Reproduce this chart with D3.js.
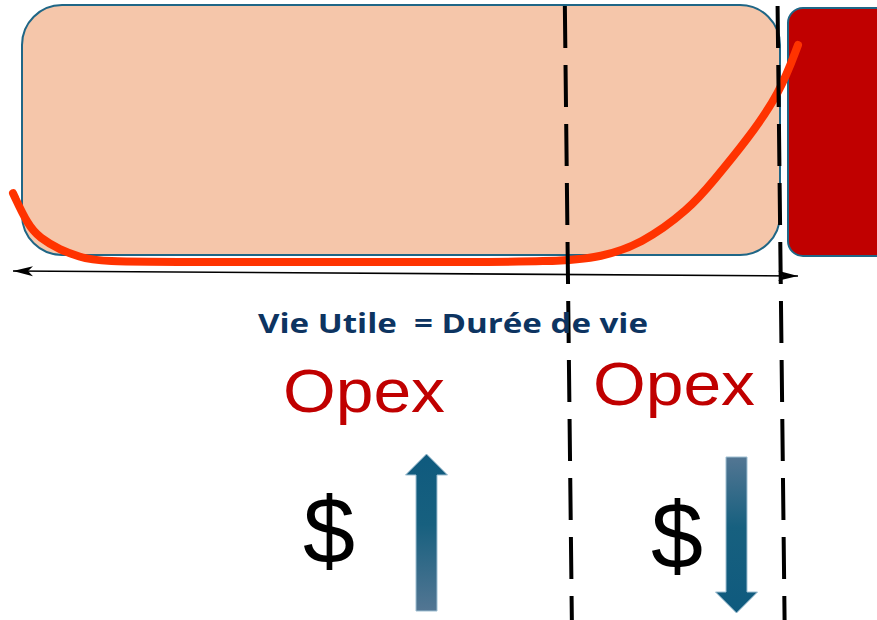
<!DOCTYPE html>
<html>
<head>
<meta charset="utf-8">
<script src="https://cdn.jsdelivr.net/npm/d3@7"></script>
<style>
  html, body { margin: 0; padding: 0; background: #fff; }
  svg { display: block; }
</style>
</head>
<body>
<div id="chart"></div>
<script>
"use strict";

var w = 877,
  h = 620;

// bathtub curve: age (% of life) vs failure rate (relative)
var ages = [0, 1.9, 3.4, 6, 8.5, 10.7, 24, 49, 70.3, 74.8, 79.9, 86.2, 89.2, 93.5, 97.7, 100];
var rates = [32, 17.4, 11.5, 6, 2.8, 0.5, 0.4, 0.4, 0.5, 2.8, 8.3, 24.8, 37.6, 56.4, 78, 100];

// phase limits on the age axis
var usefulLifeEnd = 70.3;
var lifeEnd = 97.4;
var phaseEdges = [usefulLifeEnd, lifeEnd];

var lifeLabel = "Vie Utile  = Durée de vie";
var opexLabels = ["Opex", "Opex"];
var costLabels = ["$", "$"];
var costTrend = ["up", "down"];

var x = d3.scaleLinear().domain([0, 100]).range([13, 798]);
var y = d3.scaleLinear().domain([0, 100]).range([263, 45]);

var svg = d3
  .select("#chart")
  .append("svg")
  .attr("width", w)
  .attr("height", h);

var defs = svg.append("defs");

//gradients for the cost arrows
[["gradUp", "#0f5a7e", "#537693"], ["gradDown", "#537693", "#0f5a7e"]].forEach(function(g) {
  var lg = defs
    .append("linearGradient")
    .attr("id", g[0])
    .attr("x1", 0)
    .attr("y1", 0)
    .attr("x2", 0)
    .attr("y2", 1);
  lg.append("stop").attr("offset", "0%").attr("stop-color", g[1]);
  lg.append("stop").attr("offset", "45%").attr("stop-color", "#17607f");
  lg.append("stop").attr("offset", "100%").attr("stop-color", g[2]);
});

//peach life box and the red end-of-life box
svg
  .append("rect")
  .attr("x", 22)
  .attr("y", 5)
  .attr("width", 758)
  .attr("height", 250)
  .attr("rx", 40)
  .attr("fill", "#f5c6aa")
  .attr("stroke", "#1f6686")
  .attr("stroke-width", 2);

svg
  .append("rect")
  .attr("x", 788)
  .attr("y", 8)
  .attr("width", 120)
  .attr("height", 248)
  .attr("rx", 15)
  .attr("fill", "#c00000")
  .attr("stroke", "#1f6686")
  .attr("stroke-width", 2);

//double arrow under the curve
defs
  .append("marker")
  .attr("id", "arrowHead")
  .attr("viewBox", "0 -6 20 12")
  .attr("refX", 20)
  .attr("refY", 0)
  .attr("markerWidth", 20)
  .attr("markerHeight", 12)
  .attr("markerUnits", "userSpaceOnUse")
  .attr("orient", "auto-start-reverse")
  .append("path")
  .attr("d", "M0,-5L20,0L0,5L5,0Z")
  .attr("fill", "#000");

svg
  .append("line")
  .attr("x1", x(0))
  .attr("y1", 271)
  .attr("x2", x(100))
  .attr("y2", 276)
  .attr("stroke", "#000")
  .attr("stroke-width", 1.6)
  .attr("marker-start", "url(#arrowHead)")
  .attr("marker-end", "url(#arrowHead)");

//failure rate curve
var line = d3
  .line()
  .x(function(d) {
    return x(d[0]);
  })
  .y(function(d) {
    return y(d[1]);
  })
  .curve(d3.curveBasis);

svg
  .append("path")
  .datum(d3.zip(ages, rates))
  .attr("d", line)
  .attr("fill", "none")
  .attr("stroke", "#ff3300")
  .attr("stroke-width", 8)
  .attr("stroke-linecap", "round");

//phase limits, slightly tilted like the source
svg
  .append("g")
  .selectAll("line")
  .data(phaseEdges)
  .join("line")
  .attr("x1", function(d) {
    return x(d);
  })
  .attr("y1", 6)
  .attr("x2", function(d) {
    return x(d) + 7;
  })
  .attr("y2", 620)
  .attr("stroke", "#000")
  .attr("stroke-width", 4)
  .attr("stroke-dasharray", "42 17");

svg
  .append("text")
  .attr("x", 258)
  .attr("y", 333)
  .attr("textLength", 390)
  .attr("lengthAdjust", "spacingAndGlyphs")
  .style("white-space", "pre")
  .attr("font-family", "'Open Sans', Lato, sans-serif")
  .attr("font-weight", 700)
  .attr("font-size", 26)
  .attr("fill", "#0d3461")
  .text(lifeLabel);

//opex and cost trend per phase
var phases = [
  { ox: 283, oy: 412, sx: 303, sy: 563, ax: 426.5, top: 454, bottom: 611 },
  { ox: 593, oy: 405, sx: 651, sy: 568, ax: 736.5, top: 457, bottom: 613 }
];

var g = svg
  .append("g")
  .selectAll("g")
  .data(phases)
  .join("g");

g.append("text")
  .attr("x", function(d) {
    return d.ox;
  })
  .attr("y", function(d) {
    return d.oy;
  })
  .attr("textLength", 162)
  .attr("lengthAdjust", "spacingAndGlyphs")
  .attr("font-family", "'Liberation Sans', Arial, sans-serif")
  .attr("font-size", 61)
  .attr("fill", "#c00000")
  .text(function(d, i) {
    return opexLabels[i];
  });

g.append("text")
  .attr("x", function(d) {
    return d.sx;
  })
  .attr("y", function(d) {
    return d.sy;
  })
  .attr("textLength", 52)
  .attr("lengthAdjust", "spacingAndGlyphs")
  .attr("font-family", "'Liberation Sans', Arial, sans-serif")
  .attr("font-size", 94)
  .attr("fill", "#000")
  .text(function(d, i) {
    return costLabels[i];
  });

function arrowPath(d, dir) {
  var sw = 10.5,
    hw = 21,
    hl = 21,
    p = d3.path();
  if (dir === "up") {
    p.moveTo(d.ax, d.top);
    p.lineTo(d.ax + hw, d.top + hl);
    p.lineTo(d.ax + sw, d.top + hl);
    p.lineTo(d.ax + sw, d.bottom);
    p.lineTo(d.ax - sw, d.bottom);
    p.lineTo(d.ax - sw, d.top + hl);
    p.lineTo(d.ax - hw, d.top + hl);
  } else {
    p.moveTo(d.ax - sw, d.top);
    p.lineTo(d.ax + sw, d.top);
    p.lineTo(d.ax + sw, d.bottom - hl);
    p.lineTo(d.ax + hw, d.bottom - hl);
    p.lineTo(d.ax, d.bottom);
    p.lineTo(d.ax - hw, d.bottom - hl);
    p.lineTo(d.ax - sw, d.bottom - hl);
  }
  p.closePath();
  return p.toString();
}

g.append("path")
  .attr("d", function(d, i) {
    return arrowPath(d, costTrend[i]);
  })
  .attr("fill", function(d, i) {
    return costTrend[i] === "up" ? "url(#gradUp)" : "url(#gradDown)";
  })
  .attr("stroke", "#9fbfd2")
  .attr("stroke-width", 1);
</script>
</body>
</html>
